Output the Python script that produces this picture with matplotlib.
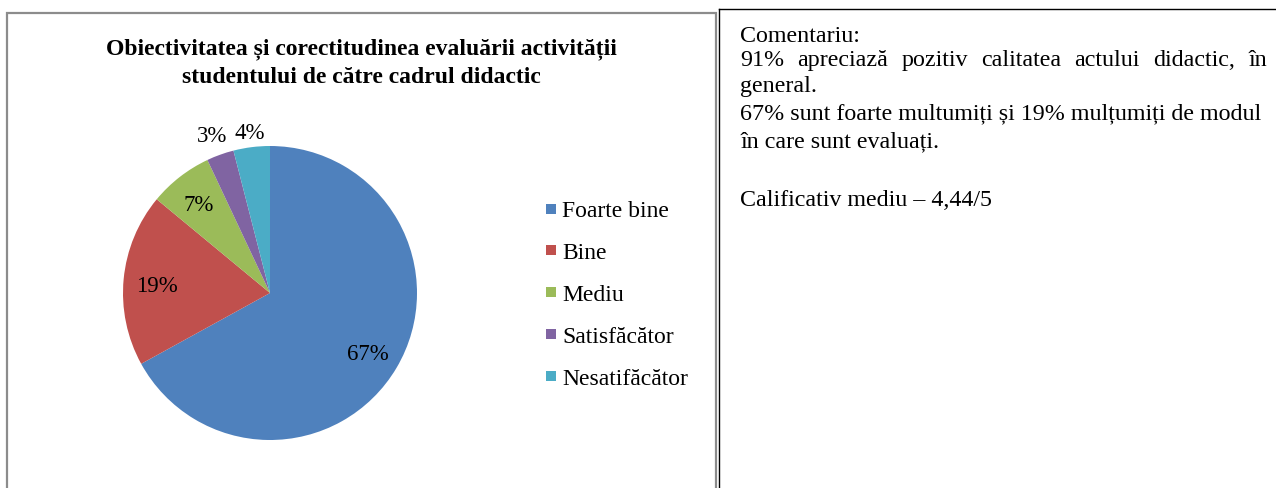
import matplotlib
matplotlib.use("Agg")
import matplotlib.pyplot as plt
import numpy as np
from matplotlib.patches import Rectangle
from matplotlib.lines import Line2D

categorii = ["Foarte bine", "Bine", "Mediu", "Satisfăcător", "Nesatifăcător"]
procente = [67, 19, 7, 3, 4]
culori = ["#4f81bd", "#c0504d", "#9bbb59", "#8064a2", "#4bacc6"]
etichete = ["67%", "19%", "7%", "3%", "4%"]
dist_eticheta = [0.77, 0.77, 0.79, 1.16, 1.12]

titlu_linii = ["Obiectivitatea și corectitudinea evaluării activității",
               "studentului de către cadrul didactic"]
comentariu_linii = [
    "Comentariu:",
    None,  # linia justificata
    "general.",
    "67% sunt foarte multumiți și 19% mulțumiți de modul",
    "în care sunt evaluați.",
    "Calificativ mediu – 4,44/5",
]
linie_justificata = "91% apreciază pozitiv calitatea actului didactic, în"

plt.rcParams["font.family"] = ["Liberation Serif", "DejaVu Serif"]

W, H = 1276, 488
fig = plt.figure(figsize=(W / 100, H / 100), dpi=100)

def px(x, y):
    return x / W, 1 - y / H

# chenare
fig.patches.append(Rectangle((7 / W, -0.1), (716 - 7) / W, (H - 13) / H + 0.1,
                             transform=fig.transFigure, fill=False,
                             edgecolor="#8c8c8c", linewidth=1.6))
fig.lines.append(Line2D([718.5 / W, 718.5 / W], [0, 1 - 9 / H], transform=fig.transFigure,
                        color="black", linewidth=1.0))
fig.lines.append(Line2D([718.5 / W, 1], [1 - 9 / H, 1 - 9 / H], transform=fig.transFigure,
                        color="black", linewidth=1.0))

# titlu
for lin, yb in zip(titlu_linii, [54, 83]):
    fig.text(*px(361, yb), lin, ha="center", va="baseline", fontsize=17,
             fontweight="bold")

# pie
cx, cy, r = 270, 293, 147
ax = fig.add_axes([(cx - 150) / W, (H - cy - 150) / H, 300 / W, 300 / H])
wedges, _ = ax.pie(procente, colors=culori, startangle=90, counterclock=False,
                   radius=r / 150, wedgeprops=dict(linewidth=0))
ax.set_xlim(-1, 1)
ax.set_ylim(-1, 1)
ax.set_aspect("equal")
ax.axis("off")
for w, lab, d in zip(wedges, etichete, dist_eticheta):
    a = np.deg2rad((w.theta1 + w.theta2) / 2)
    ax.text(d * r / 150 * np.cos(a), d * r / 150 * np.sin(a) - 4 / 150, lab,
            ha="center", va="center", fontsize=16.5)

# legenda
for i, (cat, c) in enumerate(zip(categorii, culori)):
    y = 211 + i * 41.8
    fig.patches.append(Rectangle(px(545.5, y + 2.5), 10 / W, 10 / H,
                                 transform=fig.transFigure, facecolor=c, edgecolor="none"))
    fig.text(*px(562, y + 1), cat, ha="left", va="center", fontsize=17)

# comentariu
x0, x1 = 740, 1267
ys = [41.5, 66, 92, 119.5, 147, 206]
for lin, y in zip(comentariu_linii, ys):
    if lin:
        fig.text(*px(x0, y), lin, ha="left", va="baseline", fontsize=17.3)

# linia justificata
cuvinte = linie_justificata.split(" ")
fig.canvas.draw()
rend = fig.canvas.get_renderer()
texte = [fig.text(0, 0, c, ha="left", va="baseline", fontsize=17.3) for c in cuvinte]
lat = [t.get_window_extent(rend).width for t in texte]
spatiu = ((x1 - x0) - sum(lat)) / (len(cuvinte) - 1)
x = x0
for t, wdt in zip(texte, lat):
    t.set_position(px(x, ys[1]))
    x += wdt + spatiu

fig.savefig("out.png", dpi=100)
